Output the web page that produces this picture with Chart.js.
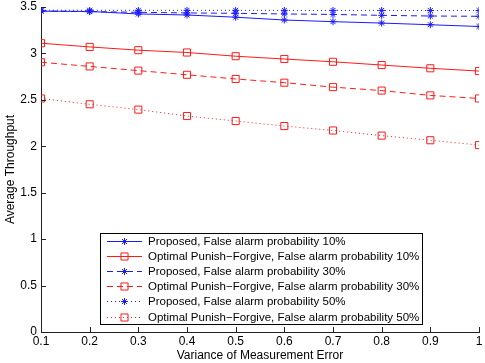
<!DOCTYPE html>
<html>
<head>
<meta charset="utf-8">
<script src="https://cdn.jsdelivr.net/npm/chart.js@4"></script>
<style>
  html, body { margin: 0; padding: 0; background: #fff; }
  #wrap { width: 485px; height: 363px; }
</style>
</head>
<body>
<div id="wrap"><canvas id="chart" width="485" height="363"></canvas></div>
<script>
const variance = [0.1, 0.2, 0.3, 0.4, 0.5, 0.6, 0.7, 0.8, 0.9, 1.0];

const proposed10 = [3.455, 3.452, 3.425, 3.414, 3.39, 3.36, 3.342, 3.327, 3.309, 3.29];
const optimal10 = [3.11, 3.07, 3.035, 3.01, 2.97, 2.94, 2.91, 2.875, 2.84, 2.81];
const proposed30 = [3.457, 3.45, 3.443, 3.436, 3.432, 3.425, 3.42, 3.41, 3.403, 3.40];
const optimal30 = [2.905, 2.86, 2.815, 2.77, 2.725, 2.685, 2.637, 2.60, 2.548, 2.515];
const proposed50 = [3.465, 3.465, 3.464, 3.464, 3.464, 3.463, 3.463, 3.463, 3.462, 3.462];
const optimal50 = [2.515, 2.452, 2.395, 2.326, 2.272, 2.218, 2.17, 2.115, 2.065, 2.013];

const seriesLabels = [
  "Proposed, False alarm probability 10%",
  "Optimal Punish\u2212Forgive, False alarm probability 10%",
  "Proposed, False alarm probability 30%",
  "Optimal Punish\u2212Forgive, False alarm probability 30%",
  "Proposed, False alarm probability 50%",
  "Optimal Punish\u2212Forgive, False alarm probability 50%"
];

const xTicks = [0.1, 0.2, 0.3, 0.4, 0.5, 0.6, 0.7, 0.8, 0.9, 1];
const yTicks = [0, 0.5, 1, 1.5, 2, 2.5, 3, 3.5];

const FONT = "'Liberation Sans', Arial, Helvetica, sans-serif";
const BLUE = "#1a1aff";
const RED = "#ff1a1a";

function pts(arr) {
  return arr.map((y, i) => ({ x: variance[i], y }));
}

function makeSet(label, data, color, dash, marker) {
  return {
    label,
    data: pts(data),
    borderColor: color,
    backgroundColor: "rgba(0,0,0,0)",
    borderWidth: 1,
    borderDash: dash,
    pointStyle: marker,
    pointRadius: marker === "rect" ? 5 : 3.5,
    pointBorderColor: color,
    pointBorderWidth: 1,
    pointBackgroundColor: "rgba(0,0,0,0)",
    tension: 0
  };
}

const solid = [];
const dashed = [6, 4];
const dotted = [1, 3];

// legend box drawn inside the plot area, like the original figure
const boxLegend = {
  id: "boxLegend",
  afterDraw(chart) {
    const ctx = chart.ctx;
    const left = 100, top = 233, right = 422, bottom = 324;
    const rowH = 15.2, firstY = 240.5;
    ctx.save();
    ctx.fillStyle = "#fff";
    ctx.fillRect(left, top, right - left, bottom - top);
    ctx.strokeStyle = "#000";
    ctx.lineWidth = 1;
    ctx.setLineDash([]);
    ctx.strokeRect(left + 0.5, top + 0.5, right - left, bottom - top);
    ctx.font = "11.5px " + FONT;
    ctx.textBaseline = "middle";
    chart.data.datasets.forEach((ds, i) => {
      const y = Math.round(firstY + i * rowH) + 0.5;
      ctx.strokeStyle = ds.borderColor;
      ctx.lineWidth = 1;
      ctx.setLineDash(ds.borderDash);
      ctx.beginPath();
      ctx.moveTo(107, y);
      ctx.lineTo(142, y);
      ctx.stroke();
      ctx.setLineDash([]);
      ctx.fillStyle = "rgba(0,0,0,0)";
      Chart.helpers.drawPoint(ctx, {
        pointStyle: ds.pointStyle,
        radius: ds.pointRadius,
        rotation: 0,
        borderWidth: ds.pointBorderWidth
      }, 124.5, y);
      ctx.fillStyle = "#000";
      ctx.fillText(ds.label, 148, y);
    });
    ctx.restore();
  }
};

// inward tick marks (MATLAB style)
const innerTicks = {
  id: "innerTicks",
  afterDatasetsDraw(chart) {
    const { ctx, chartArea, scales } = chart;
    ctx.save();
    ctx.strokeStyle = "#222";
    ctx.lineWidth = 1;
    ctx.setLineDash([]);
    ctx.beginPath();
    xTicks.forEach(v => {
      const x = Math.round(scales.x.getPixelForValue(v)) + 0.5;
      ctx.moveTo(x, chartArea.bottom);
      ctx.lineTo(x, chartArea.bottom - 5);
    });
    yTicks.forEach(v => {
      const y = Math.round(scales.y.getPixelForValue(v)) + 0.5;
      ctx.moveTo(chartArea.left, y);
      ctx.lineTo(chartArea.left + 5, y);
    });
    ctx.stroke();
    ctx.restore();
  }
};

new Chart(document.getElementById("chart"), {
  type: "line",
  data: {
    datasets: [
      makeSet(seriesLabels[0], proposed10, BLUE, solid, "star"),
      makeSet(seriesLabels[1], optimal10, RED, solid, "rect"),
      makeSet(seriesLabels[2], proposed30, BLUE, dashed, "star"),
      makeSet(seriesLabels[3], optimal30, RED, dashed, "rect"),
      makeSet(seriesLabels[4], proposed50, BLUE, dotted, "star"),
      makeSet(seriesLabels[5], optimal50, RED, dotted, "rect")
    ]
  },
  options: {
    responsive: false,
    animation: false,
    layout: { padding: { top: 7, right: 3, left: 0, bottom: 0 } },
    plugins: {
      legend: { display: false },
      tooltip: { enabled: false }
    },
    scales: {
      x: {
        type: "linear",
        min: 0.1,
        max: 1,
        afterBuildTicks: s => { s.ticks = xTicks.map(v => ({ value: v })); },
        afterFit: s => { s.height = 31; s.paddingLeft = 0; s.paddingRight = 0; },
        grid: { display: false, drawTicks: false },
        border: { color: "#222", width: 1 },
        ticks: {
          color: "#000",
          font: { family: FONT, size: 12 },
          padding: 2,
          maxRotation: 0,
          autoSkip: false,
          callback: v => String(+v.toFixed(1))
        },
        title: {
          display: true,
          text: "Variance of Measurement Error",
          color: "#000",
          font: { family: FONT, size: 12 },
          padding: { top: 0, bottom: 0 }
        }
      },
      y: {
        min: 0,
        max: 3.5,
        afterBuildTicks: s => { s.ticks = yTicks.map(v => ({ value: v })); },
        afterFit: s => { s.width = 41; s.paddingTop = 0; s.paddingBottom = 0; },
        grid: { display: false, drawTicks: false },
        border: { color: "#222", width: 1 },
        ticks: {
          color: "#000",
          font: { family: FONT, size: 12 },
          padding: 4,
          autoSkip: false,
          callback: v => String(+v.toFixed(1))
        },
        title: {
          display: true,
          text: "Average Throughput",
          color: "#000",
          font: { family: FONT, size: 12 },
          padding: { top: 3, bottom: 2 }
        }
      }
    }
  },
  plugins: [boxLegend, innerTicks]
});
</script>
</body>
</html>
